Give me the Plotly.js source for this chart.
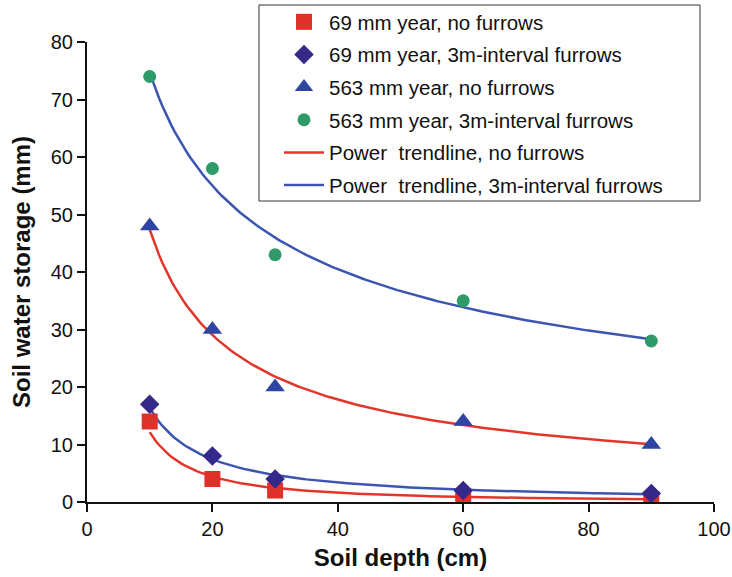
<!DOCTYPE html>
<html>
<head>
<meta charset="utf-8">
<script src="https://cdn.plot.ly/plotly-3.0.1.min.js"></script>
<style>html,body{margin:0;padding:0;background:#fff;}#chart{width:732px;height:577px;}</style>
</head>
<body>
<div id="chart"></div>
<script>
// Data
const depths = [10, 20, 30, 60, 90];
const dry_noFurrows = [14, 4, 2, 1, 0.5];        // 69 mm year, no furrows
const dry_furrows = [17, 8, 4, 2, 1.5];          // 69 mm year, 3m-interval furrows
const wet_noFurrows = [48, 30, 20, 14, 10];      // 563 mm year, no furrows
const wet_furrows = [74, 58, 43, 35, 28];        // 563 mm year, 3m-interval furrows

const xTicks = [0, 20, 40, 60, 80, 100];
const yTicks = [0, 10, 20, 30, 40, 50, 60, 70, 80];

// Power trendline (least squares in log-log space), as in a spreadsheet's power trendline
function powerFit(xs, ys) {
  const lx = xs.map(Math.log), ly = ys.map(Math.log);
  const n = xs.length;
  const mx = lx.reduce((a, b) => a + b, 0) / n;
  const my = ly.reduce((a, b) => a + b, 0) / n;
  let sxy = 0, sxx = 0;
  for (let i = 0; i < n; i++) { sxy += (lx[i] - mx) * (ly[i] - my); sxx += (lx[i] - mx) ** 2; }
  const b = sxy / sxx;
  const a = Math.exp(my - b * mx);
  const tx = [], ty = [];
  const x0 = Math.min(...xs), x1 = Math.max(...xs);
  for (let i = 0; i <= 160; i++) { const x = x0 + (x1 - x0) * i / 160; tx.push(x); ty.push(a * Math.pow(x, b)); }
  return {x: tx, y: ty};
}

const RED = '#e3362b', BLUE = '#3b55b0';
const FONT = 'Liberation Sans, Arial, sans-serif';
const fDryNo = powerFit(depths, dry_noFurrows);
const fDryF = powerFit(depths, dry_furrows);
const fWetNo = powerFit(depths, wet_noFurrows);
const fWetF = powerFit(depths, wet_furrows);

const traces = [
  {x: fWetF.x, y: fWetF.y, mode: 'lines', line: {color: BLUE, width: 2.5}, showlegend: false, hoverinfo: 'skip'},
  {x: fWetNo.x, y: fWetNo.y, mode: 'lines', line: {color: RED, width: 2.5}, showlegend: false, hoverinfo: 'skip'},
  {x: fDryF.x, y: fDryF.y, mode: 'lines', line: {color: BLUE, width: 2.5}, showlegend: false, hoverinfo: 'skip'},
  {x: fDryNo.x, y: fDryNo.y, mode: 'lines', line: {color: RED, width: 2.5}, showlegend: false, hoverinfo: 'skip'},
  {x: depths, y: dry_noFurrows, mode: 'markers', name: '69 mm year, no furrows', legendgroup: 'a',
   marker: {symbol: 'square', color: '#e0302a', size: 16}},
  {x: depths, y: dry_furrows, mode: 'markers', name: '69 mm year, 3m-interval furrows', legendgroup: 'b',
   marker: {symbol: 'diamond', color: '#34288a', size: 15}},
  {x: depths, y: wet_noFurrows, mode: 'markers', name: '563 mm year, no furrows', legendgroup: 'c',
   marker: {symbol: 'triangle-up', color: '#2e45a3', size: 17}},
  {x: depths, y: wet_furrows, mode: 'markers', name: '563 mm year, 3m-interval furrows', legendgroup: 'd',
   marker: {symbol: 'circle', color: '#2e9a68', size: 13}},
  {x: [null], y: [null], mode: 'lines', name: 'Power  trendline, no furrows', legendgroup: 'e',
   line: {color: RED, width: 2.5}},
  {x: [null], y: [null], mode: 'lines', name: 'Power  trendline, 3m-interval furrows', legendgroup: 'f',
   line: {color: BLUE, width: 2.5}}
];

const layout = {
  width: 732, height: 577,
  margin: {l: 87, r: 18, t: 42, b: 75, autoexpand: false},
  paper_bgcolor: '#fff', plot_bgcolor: '#fff',
  font: {family: FONT, size: 20, color: '#111'},
  xaxis: {
    range: [0, 100], tickvals: xTicks, ticktext: xTicks.map(String),
    showline: true, linecolor: '#111', linewidth: 2, ticks: 'outside', ticklen: 8, tickwidth: 2, tickcolor: '#111',
    showgrid: false, zeroline: false, mirror: false, automargin: false,
    title: {text: 'Soil depth (cm)', font: {size: 24, family: FONT, weight: 'bold'}, standoff: 10}
  },
  yaxis: {
    range: [0, 80], tickvals: yTicks, ticktext: yTicks.map(String),
    showline: true, linecolor: '#111', linewidth: 2, ticks: 'outside', ticklen: 8, tickwidth: 2, tickcolor: '#111',
    showgrid: false, zeroline: false, automargin: false,
    title: {text: 'Soil water storage (mm)', font: {size: 24, family: FONT, weight: 'bold'}, standoff: 13}
  },
  legend: {
    x: 0.3062, y: 1.087, xanchor: 'left', yanchor: 'top',
    bgcolor: 'rgba(0,0,0,0)', borderwidth: 0,
    font: {size: 20.5, family: FONT},
    traceorder: 'grouped', tracegroupgap: 3, itemwidth: 40
  },
  shapes: [{
    type: 'rect', xref: 'paper', yref: 'paper',
    x0: 0.2743, x1: 0.9777, y0: 0.6543, y1: 1.0804,
    line: {color: '#333', width: 1}, fillcolor: 'rgba(0,0,0,0)', layer: 'above'
  }],
  showlegend: true
};

Plotly.newPlot('chart', traces, layout, {displayModeBar: false, staticPlot: true});
</script>
</body>
</html>
